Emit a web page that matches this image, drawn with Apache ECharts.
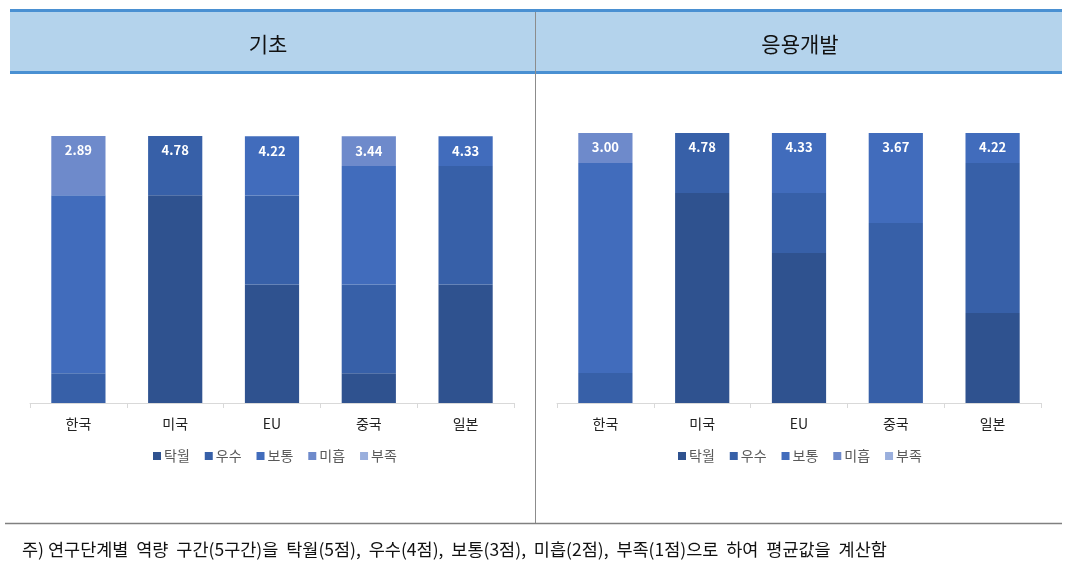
<!DOCTYPE html>
<html>
<head>
<meta charset="utf-8">
<script src="https://cdn.jsdelivr.net/npm/echarts@6/dist/echarts.min.js"></script>
<style>
html,body{margin:0;padding:0;background:#fff;}
#c{width:1070px;height:577px;}
</style>
</head>
<body>
<div id="c"></div>
<script>
// ---- data ----
var categories = ['한국', '미국', 'EU', '중국', '일본'];
var levels = ['탁월', '우수', '보통', '미흡', '부족'];
var panelTitles = ['기초', '응용개발'];
// share of responses (%) per level, 기초
var basic탁월 = [0, 77.8, 44.4, 11.1, 44.4];
var basic우수 = [11.1, 22.2, 33.3, 33.3, 44.4];
var basic보통 = [66.7, 0, 22.2, 44.4, 11.1];
var basic미흡 = [22.2, 0, 0, 11.1, 0];
var basic부족 = [0, 0, 0, 0, 0];
var basicAvg = [2.89, 4.78, 4.22, 3.44, 4.33];
// 응용개발
var applied탁월 = [0, 77.8, 55.6, 0, 33.3];
var applied우수 = [11.1, 22.2, 22.2, 66.7, 55.6];
var applied보통 = [77.8, 0, 22.2, 33.3, 11.1];
var applied미흡 = [11.1, 0, 0, 0, 0];
var applied부족 = [0, 0, 0, 0, 0];
var appliedAvg = [3.00, 4.78, 4.33, 3.67, 4.22];
var footnote = '주) 연구단계별  역량  구간(5구간)을  탁월(5점),  우수(4점),  보통(3점),  미흡(2점),  부족(1점)으로  하여  평균값을  계산함';

var colors = ['#2F528F', '#3760A8', '#416CBC', '#6E8ACB', '#9AAFDD'];
var FONT = '"Noto Sans CJK KR", "Noto Sans", sans-serif';

var basicSets = [basic탁월, basic우수, basic보통, basic미흡, basic부족];
var appliedSets = [applied탁월, applied우수, applied보통, applied미흡, applied부족];

function buildSeries(sets, avg, gi) {
  var topIdx = categories.map(function (c, ci) {
    var t = 0;
    for (var s = 0; s < sets.length; s++) if (sets[s][ci] > 0) t = s;
    return t;
  });
  return sets.map(function (vals, si) {
    return {
      name: levels[si],
      type: 'bar',
      stack: 'g' + gi,
      xAxisIndex: gi,
      yAxisIndex: gi,
      barWidth: '56%',
      itemStyle: { color: colors[si] },
      data: vals.map(function (v, ci) {
        var item = { value: v };
        if (topIdx[ci] === si) {
          item.label = {
            show: true,
            position: 'insideTop',
            distance: 8,
            color: '#fff',
            fontWeight: 'bold',
            fontSize: 13,
            fontFamily: FONT,
            formatter: function () { return avg[ci].toFixed(2); }
          };
        }
        return item;
      })
    };
  });
}

var chart = echarts.init(document.getElementById('c'));
var xAxisCommon = {
  type: 'category',
  data: categories,
  axisLine: { lineStyle: { color: '#D9D9D9' } },
  axisTick: { show: true, length: 5, lineStyle: { color: '#D9D9D9' } },
  axisLabel: { color: '#222', fontSize: 14, fontFamily: FONT, margin: 14 }
};
var yAxisCommon = { type: 'value', min: 0, max: 100, show: false, splitLine: { show: false } };

var legendCommon = {
  data: levels,
  icon: 'rect',
  itemWidth: 8,
  itemHeight: 8,
  itemGap: 15,
  textStyle: { color: '#595959', fontSize: 14, fontFamily: FONT, padding: [0, 0, 0, -2] },
  selectedMode: false
};

chart.setOption({
  animation: false,
  color: colors,
  grid: [
    { left: 30, right: 556, top: 136, bottom: 174 },
    { left: 557, right: 29, top: 133, bottom: 174 }
  ],
  xAxis: [
    Object.assign({ gridIndex: 0 }, xAxisCommon),
    Object.assign({ gridIndex: 1 }, xAxisCommon)
  ],
  yAxis: [
    Object.assign({ gridIndex: 0 }, yAxisCommon),
    Object.assign({ gridIndex: 1 }, yAxisCommon)
  ],
  legend: [
    Object.assign({ left: 148, top: 444 }, legendCommon),
    Object.assign({ left: 673, top: 444 }, legendCommon)
  ],
  graphic: [
    { type: 'rect', shape: { x: 10, y: 12, width: 1052, height: 59 }, style: { fill: '#B4D3EC' }, silent: true },
    { type: 'rect', shape: { x: 10, y: 9, width: 1052, height: 3 }, style: { fill: '#4A90D2' }, silent: true },
    { type: 'rect', shape: { x: 10, y: 71, width: 1052, height: 3 }, style: { fill: '#4A90D2' }, silent: true },
    { type: 'line', shape: { x1: 535.5, y1: 12, x2: 535.5, y2: 523 }, style: { stroke: '#8C8C8C', lineWidth: 1 }, silent: true },
    { type: 'line', shape: { x1: 5, y1: 523.5, x2: 1062, y2: 523.5 }, style: { stroke: '#808080', lineWidth: 1.5 }, silent: true },
    { type: 'text', x: 268, y: 44, style: { text: panelTitles[0], font: '21px ' + FONT, fill: '#111', align: 'center', verticalAlign: 'middle' }, silent: true },
    { type: 'text', x: 800, y: 44, style: { text: panelTitles[1], font: '21px ' + FONT, fill: '#111', align: 'center', verticalAlign: 'middle' }, silent: true },
    { type: 'text', x: 22, y: 549, style: { text: footnote, font: '17.5px ' + FONT, fill: '#111', align: 'left', verticalAlign: 'middle' }, silent: true }
  ],
  series: buildSeries(basicSets, basicAvg, 0).concat(buildSeries(appliedSets, appliedAvg, 1))
});
</script>
</body>
</html>
